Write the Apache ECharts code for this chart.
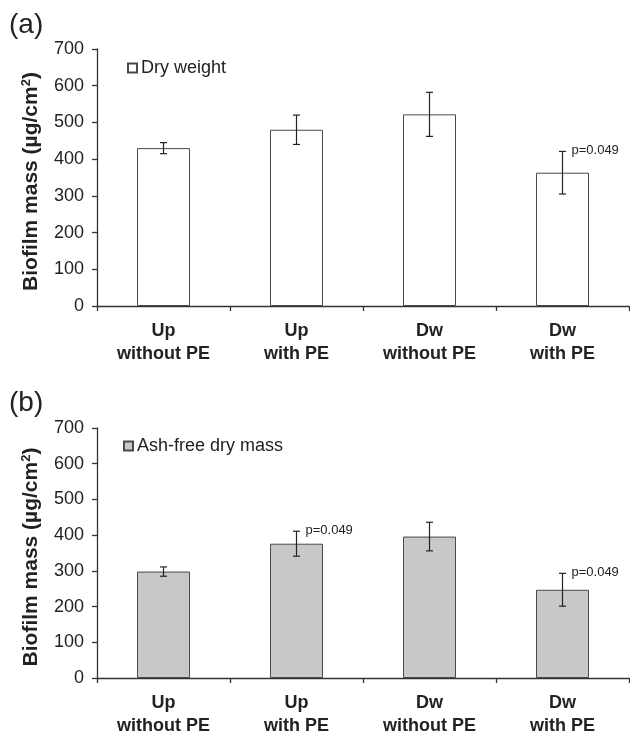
<!DOCTYPE html>
<html>
<head>
<meta charset="utf-8">
<script src="https://cdn.jsdelivr.net/npm/echarts@6/dist/echarts.min.js"></script>
<style>
html,body{margin:0;padding:0;background:#fff;}
#c{width:630px;height:738px;}
</style>
</head>
<body>
<div id="c"></div>
<script>
// ---- data ----
const categories = ['Up\nwithout PE', 'Up\nwith PE', 'Dw\nwithout PE', 'Dw\nwith PE'];
const dryWeight = [430, 480, 522, 363];
const dryWeightErr = [15, 40, 60, 58];
const dryWeightP = ['', '', '', 'p=0.049'];
const ashFree = [298, 376, 396, 247];
const ashFreeErr = [13, 35, 40, 46];
const ashFreeP = ['', 'p=0.049', '', 'p=0.049'];
const yTicks = [0, 100, 200, 300, 400, 500, 600, 700];

const FONT = "'Liberation Sans', Arial, Helvetica, sans-serif";
const chart = echarts.init(document.getElementById('c'), null, {renderer: 'canvas'});

function errData(means, errs) {
  return means.map((m, i) => [i, m - errs[i], m + errs[i]]);
}
function makeErrRender(pLabels) {
  return function (params, api) {
    const x = api.value(0);
    const top = api.coord([x, api.value(2)]);
    const bot = api.coord([x, api.value(1)]);
    const hw = 3.5;
    const st = {stroke: '#222', lineWidth: 1.2};
    const children = [
      {type: 'line', shape: {x1: top[0], y1: top[1], x2: bot[0], y2: bot[1]}, style: st},
      {type: 'line', shape: {x1: top[0] - hw, y1: top[1], x2: top[0] + hw, y2: top[1]}, style: st},
      {type: 'line', shape: {x1: bot[0] - hw, y1: bot[1], x2: bot[0] + hw, y2: bot[1]}, style: st}
    ];
    const lbl = pLabels[params.dataIndex];
    if (lbl) {
      children.push({type: 'text', x: top[0] + 9, y: top[1] - 1,
        style: {text: lbl, fill: '#222', font: '13px ' + FONT, textAlign: 'left', textVerticalAlign: 'middle'}});
    }
    return {type: 'group', children: children};
  };
}

function xAxisCfg(gi) {
  return {
    type: 'category', gridIndex: gi, data: categories,
    axisLine: {lineStyle: {color: '#333', width: 1.3}},
    axisTick: {show: true, length: 5, lineStyle: {color: '#333', width: 1.3}},
    axisLabel: {color: '#222', fontFamily: FONT, fontSize: 18, fontWeight: 'bold', lineHeight: 23, margin: 14}
  };
}
function yAxisCfg(gi) {
  return {
    type: 'value', gridIndex: gi, min: yTicks[0], max: yTicks[yTicks.length - 1], interval: 100,
    axisLine: {show: true, lineStyle: {color: '#333', width: 1.3}},
    axisTick: {show: true, length: 5, lineStyle: {color: '#333', width: 1.3}},
    splitLine: {show: false},
    axisLabel: {color: '#222', fontFamily: FONT, fontSize: 18, margin: 13},
    name: 'Biofilm mass (µg/cm{sup|2})',
    nameLocation: 'middle', nameRotate: 90, nameGap: 54,
    nameTextStyle: {
      color: '#222', fontFamily: FONT, fontSize: 21, fontWeight: 'bold', padding: [0, 8, 0, 0],
      rich: {sup: {fontSize: 13, fontWeight: 'bold', fontFamily: FONT, color: '#222', padding: [0, 0, 10, 0]}}
    }
  };
}

const option = {
  animation: false,
  backgroundColor: '#fff',
  title: [
    {text: '(a)', left: 4, top: 6, textStyle: {fontFamily: FONT, fontSize: 28, fontWeight: 'normal', color: '#222'}},
    {text: '(b)', left: 4, top: 384, textStyle: {fontFamily: FONT, fontSize: 28, fontWeight: 'normal', color: '#222'}}
  ],
  legend: [
    {data: ['Dry weight'], left: 122, top: 54, icon: 'rect', itemWidth: 9, itemHeight: 9, itemGap: 5,
     textStyle: {fontFamily: FONT, fontSize: 18, color: '#222', padding: [0, 0, 0, -1]}},
    {data: ['Ash-free dry mass'], left: 118, top: 432, icon: 'rect', itemWidth: 9, itemHeight: 9, itemGap: 5,
     textStyle: {fontFamily: FONT, fontSize: 18, color: '#222', padding: [0, 0, 0, -1]}}
  ],
  grid: [
    {left: 97, top: 49, width: 532, height: 257},
    {left: 97, top: 428, width: 532, height: 254}
  ],
  xAxis: [xAxisCfg(0), xAxisCfg(1)],
  yAxis: [yAxisCfg(0), yAxisCfg(1)],
  series: [
    {name: 'Dry weight', type: 'bar', xAxisIndex: 0, yAxisIndex: 0, data: dryWeight, barWidth: 53,
     itemStyle: {color: '#ffffff', borderColor: '#4a4a4a', borderWidth: 1}},
    {type: 'custom', xAxisIndex: 0, yAxisIndex: 0, data: errData(dryWeight, dryWeightErr),
     renderItem: makeErrRender(dryWeightP), z: 5},
    {name: 'Ash-free dry mass', type: 'bar', xAxisIndex: 1, yAxisIndex: 1, data: ashFree, barWidth: 53,
     itemStyle: {color: '#c7c8ca', borderColor: '#4a4a4a', borderWidth: 1}},
    {type: 'custom', xAxisIndex: 1, yAxisIndex: 1, data: errData(ashFree, ashFreeErr),
     renderItem: makeErrRender(ashFreeP), z: 5}
  ]
};
chart.setOption(option);
</script>
</body>
</html>
